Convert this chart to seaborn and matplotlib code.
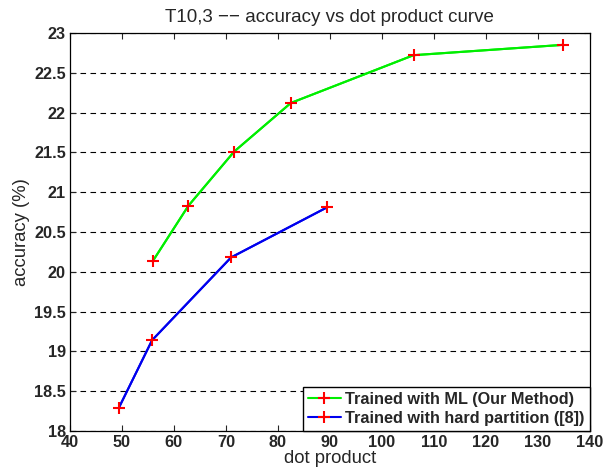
import matplotlib
matplotlib.use("Agg")
import matplotlib.pyplot as plt
import seaborn as sns
import pandas as pd

# ── Data ───────────────────────────────────────────────────────
ml_dot = [55.9, 62.8, 71.6, 82.5, 106.1, 134.9]
ml_acc = [20.13, 20.83, 21.51, 22.12, 22.72, 22.85]
hard_dot = [49.4, 55.8, 71.0, 89.5]
hard_acc = [18.29, 19.14, 20.18, 20.81]

labels = ["Trained with ML (Our Method)", "Trained with hard partition ([8])"]
x_ticks = list(range(40, 141, 10))
y_ticks = [18, 18.5, 19, 19.5, 20, 20.5, 21, 21.5, 22, 22.5, 23]

df = pd.concat([
    pd.DataFrame({"dot": ml_dot, "acc": ml_acc, "method": labels[0]}),
    pd.DataFrame({"dot": hard_dot, "acc": hard_acc, "method": labels[1]}),
])

# ── Style ──────────────────────────────────────────────────────
sns.set_style("ticks")
plt.rcParams["font.family"] = ["Liberation Sans", "DejaVu Sans"]

fig = plt.figure(figsize=(6.03, 4.70), dpi=100)
ax = fig.add_axes([0.116, 0.083, 0.862, 0.847])

palette = {labels[0]: "#00ee00", labels[1]: "#0000ee"}
sns.lineplot(data=df, x="dot", y="acc", hue="method", palette=palette,
             sort=False, estimator=None, linewidth=1.5, ax=ax, legend=False)

# red plus markers over the lines
for xs, ys, c, lab in [(ml_dot, ml_acc, "#00ee00", labels[0]),
                       (hard_dot, hard_acc, "#0000ee", labels[1])]:
    ax.plot(xs, ys, color=c, linewidth=1.5, marker="+", markersize=8.5,
            markeredgewidth=1.5, markeredgecolor="red", label=lab, zorder=3)

ax.set_xlim(40, 140)
ax.set_ylim(18, 23)
ax.set_xticks(x_ticks)
ax.set_yticks(y_ticks)
ax.set_yticklabels([f"{v:g}" for v in y_ticks])
ax.tick_params(direction="in", top=True, right=True, length=4, width=0.8,
               labelsize=11.7, pad=3)
for t in ax.get_xticklabels() + ax.get_yticklabels():
    t.set_fontweight("bold")

ax.yaxis.grid(True, linestyle=(0, (5, 4)), color="black", linewidth=0.8)
ax.xaxis.grid(False)
for s in ax.spines.values():
    s.set_color("black")
    s.set_linewidth(0.9)

ax.set_xlabel("dot product", fontsize=13.3, labelpad=0)
ax.set_ylabel("accuracy (%)", fontsize=13.3, labelpad=3)
ax.set_title("T10,3 −− accuracy vs dot product curve", fontsize=13.5, pad=8)

leg = ax.legend(loc="lower right", frameon=True, fancybox=False,
                edgecolor="black", framealpha=1, borderaxespad=0.0,
                borderpad=0.3, labelspacing=0.25, handlelength=2.0,
                handletextpad=0.3, prop={"weight": "bold", "size": 11.7})
leg.get_frame().set_linewidth(1.0)

plt.savefig("out.png", dpi=100)
